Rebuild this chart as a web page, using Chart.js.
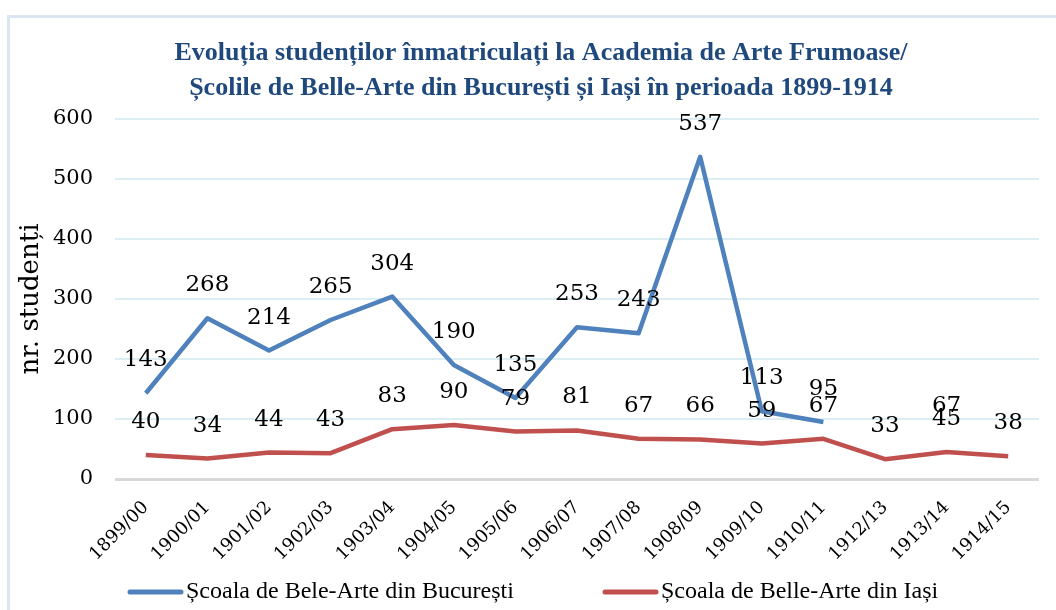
<!DOCTYPE html>
<html>
<head>
<meta charset="utf-8">
<script src="https://cdn.jsdelivr.net/npm/chart.js@4.4.1/dist/chart.umd.min.js"></script>
<style>
html,body{margin:0;padding:0;background:#fff;}
#wrap{position:relative;width:1056px;height:610px;overflow:hidden;}
#frame{position:absolute;left:7px;top:15px;width:1100px;height:700px;border-left:3px solid #DCE6F2;border-top:3px solid #DCE6F2;}
canvas{position:absolute;left:0;top:0;}
</style>
</head>
<body>
<div id="wrap">
<div id="frame"></div>
<canvas id="c" width="1056" height="610"></canvas>
</div>
<script>
const categories = ["1899/00","1900/01","1901/02","1902/03","1903/04","1904/05","1905/06","1906/07","1907/08","1908/09","1909/10","1910/11","1912/13","1913/14","1914/15"];
const bucuresti = [143,268,214,265,304,190,135,253,243,537,113,95,null,67,null];
const iasi = [40,34,44,43,83,90,79,81,67,66,59,67,33,45,38];
const seriesNames = ["Școala de Bele-Arte din București","Școala de Belle-Arte din Iași"];
const titleLines = ["Evoluția studenților înmatriculați la Academia de Arte Frumoase/","Școlile de Belle-Arte din București și Iași în perioada 1899-1914"];
const yTicks = [0,100,200,300,400,500,600];
const yTitle = "nr. studenți";

const titlePlugin = {
  id: 'customTitle',
  afterDraw(chart) {
    const ctx = chart.ctx;
    ctx.save();
    ctx.font = 'bold 26px "Liberation Serif"';
    ctx.fillStyle = '#1F497D';
    ctx.textAlign = 'center';
    ctx.textBaseline = 'middle';
    ctx.fillText(titleLines[0], 541, 53);
    ctx.fillText(titleLines[1], 541, 88);
    ctx.restore();
  }
};

const legendPlugin = {
  id: 'customLegend',
  afterDraw(chart) {
    const ctx = chart.ctx;
    const items = [{x: 128}, {x: 603}];
    ctx.save();
    ctx.font = '24px "Liberation Serif"';
    ctx.textAlign = 'left';
    ctx.textBaseline = 'middle';
    chart.data.datasets.forEach((ds, i) => {
      const x = items[i].x, y = 592;
      ctx.strokeStyle = ds.borderColor;
      ctx.lineWidth = 5;
      ctx.lineCap = 'round';
      ctx.beginPath();
      ctx.moveTo(x + 2, y);
      ctx.lineTo(x + 53, y);
      ctx.stroke();
      ctx.fillStyle = '#000';
      ctx.fillText(ds.label, x + 58, y);
    });
    ctx.restore();
  }
};

const labelPlugin = {
  id: 'valueLabels',
  afterDatasetsDraw(chart) {
    const ctx = chart.ctx;
    ctx.save();
    ctx.font = '23px "DejaVu Serif"';
    ctx.fillStyle = '#000';
    ctx.textAlign = 'center';
    ctx.textBaseline = 'middle';
    chart.data.datasets.forEach((ds, i) => {
      const meta = chart.getDatasetMeta(i);
      meta.data.forEach((pt, j) => {
        const v = ds.data[j];
        if (v === null || v === undefined) return;
        const x = chart.scales.x.getPixelForValue(j);
        const y = chart.scales.y.getPixelForValue(v);
        ctx.fillText(String(v), x, y - 33);
      });
    });
    ctx.restore();
  }
};

new Chart(document.getElementById('c'), {
  type: 'line',
  data: {
    labels: categories,
    datasets: [
      {label: seriesNames[0], data: bucuresti, borderColor: '#4F81BD', backgroundColor: '#4F81BD', borderWidth: 4.5, pointRadius: 0, spanGaps: false, tension: 0, borderCapStyle: 'butt', borderJoinStyle: 'round'},
      {label: seriesNames[1], data: iasi, borderColor: '#C0504D', backgroundColor: '#C0504D', borderWidth: 4.5, pointRadius: 0, spanGaps: false, tension: 0, borderCapStyle: 'butt', borderJoinStyle: 'round'}
    ]
  },
  options: {
    responsive: false,
    animation: false,
    devicePixelRatio: 1,
    layout: {padding: {left: 16, right: 17, top: 119, bottom: 36}},
    plugins: {
      legend: {display: false},
      title: {display: false},
      tooltip: {enabled: false}
    },
    scales: {
      x: {
        offset: true,
        grid: {display: false, drawTicks: false},
        border: {display: false},
        afterFit(scale) { scale.height = 95; },
        ticks: {font: {family: '"DejaVu Serif"', size: 18}, color: '#000', maxRotation: 45, minRotation: 45, autoSkip: false, padding: 18}
      },
      y: {
        min: 0, max: 600,
        afterBuildTicks(scale) { scale.ticks = yTicks.map(v => ({value: v})); },
        afterFit(scale) { scale.width = 99; },
        grid: {
          color: (c) => c.tick && c.tick.value === 0 ? '#D9D9D9' : '#DAEEF3',
          lineWidth: (c) => c.tick && c.tick.value === 0 ? 3 : 2,
          drawTicks: false
        },
        border: {display: false},
        ticks: {font: {family: '"DejaVu Serif"', size: 21}, color: '#000', padding: 22},
        title: {display: true, text: yTitle, font: {family: '"DejaVu Serif"', size: 26}, color: '#000', padding: {top: 0, bottom: 2}}
      }
    }
  },
  plugins: [titlePlugin, labelPlugin, legendPlugin]
});
</script>
</body>
</html>
